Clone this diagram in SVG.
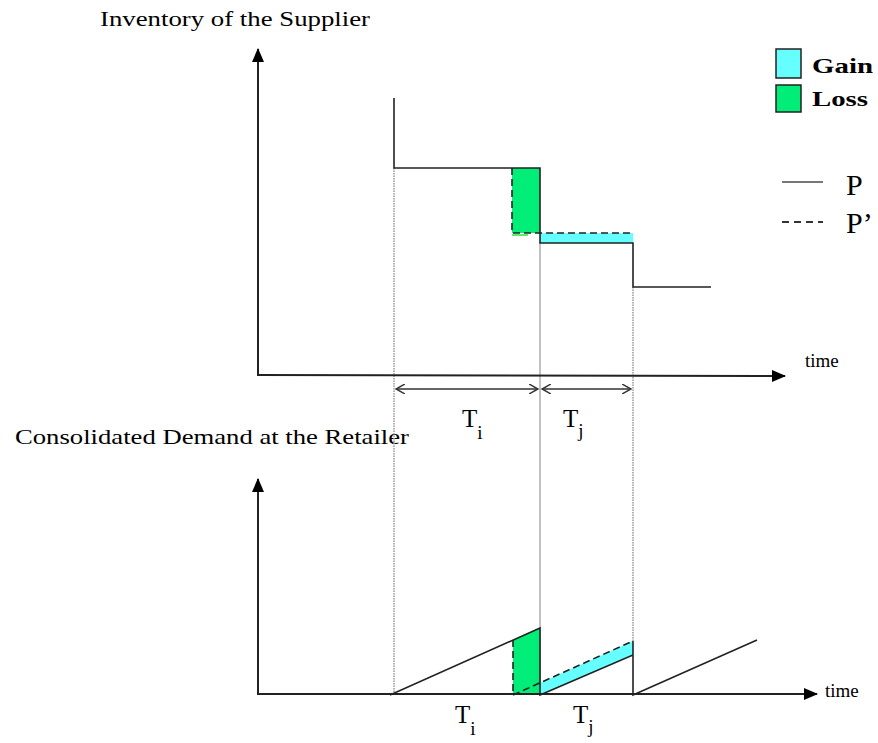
<svg xmlns="http://www.w3.org/2000/svg" width="878" height="743" viewBox="0 0 878 743">
<defs>
<style>
.t{font-family:"Liberation Serif","Times New Roman",serif;fill:#000}
.ax{stroke:#222;stroke-width:2;fill:none}
.p{stroke:#222;stroke-width:1.6;fill:none}
.pd{stroke:#222;stroke-width:1.6;fill:none;stroke-dasharray:7,4}
.dot{stroke:#999;stroke-width:1.5;fill:none;stroke-dasharray:1.5,1}
.gl{stroke:#999;stroke-width:1.2;fill:none}
.gain{fill:#66ffff}
.loss{fill:#00ee77}
</style>
<marker id="ah" markerWidth="14" markerHeight="12" refX="13" refY="6" orient="auto" markerUnits="userSpaceOnUse">
<path d="M0,0 L14,6 L0,12 Z" fill="#000"/>
</marker>
<marker id="oh" markerWidth="10" markerHeight="10" refX="9" refY="5" orient="auto-start-reverse" markerUnits="userSpaceOnUse">
<path d="M0,0 L9,5 L0,10" fill="none" stroke="#333" stroke-width="1.5"/>
</marker>
</defs>
<rect width="878" height="743" fill="#fff"/>

<g id="titles">
<text class="t" x="100" y="26" font-size="21" textLength="270" lengthAdjust="spacingAndGlyphs">Inventory of the Supplier</text>
<text class="t" x="15" y="444" font-size="21" textLength="394" lengthAdjust="spacingAndGlyphs">Consolidated Demand at the Retailer</text>
</g>

<g id="guides">
<line class="dot" x1="394" y1="168" x2="394" y2="694"/>
<line class="gl" x1="540" y1="243" x2="540" y2="694"/>
<line class="dot" x1="633" y1="287" x2="633" y2="641"/>
</g>

<g id="top-fills">
<rect class="loss" x="512" y="168" width="28" height="65"/>
<rect class="gain" x="540" y="233" width="93" height="10"/>
</g>

<g id="bottom-fills">
<polygon class="loss" points="513,640 540,628 540,695 513,695"/>
<polygon class="gain" points="540,683 633,641 633,655 540,695"/>
</g>

<g id="axes">
<line class="ax" x1="258" y1="375" x2="258" y2="49" marker-end="url(#ah)"/>
<line class="ax" x1="257" y1="375" x2="785" y2="376" marker-end="url(#ah)"/>
<line class="ax" x1="258" y1="695" x2="258" y2="479" marker-end="url(#ah)"/>
<line class="ax" x1="257" y1="694" x2="817" y2="694" marker-end="url(#ah)"/>
<text class="t" x="805" y="367" font-size="19">time</text>
<text class="t" x="825" y="697" font-size="19">time</text>
</g>

<g id="curve-top">
<polyline class="p" points="394,98 394,168 540,168 540,243 633,243 633,287 711,287"/>
<polyline class="pd" points="512,168 512,233 540,233 633,233"/>
<line x1="512" y1="235" x2="528" y2="235" stroke="#00dd00" stroke-width="1.2"/>
</g>

<g id="curve-bottom">
<polyline class="p" points="390,695 540,628 540,695 633,655 633,641 633,695 757,640"/>
<line class="pd" x1="513" y1="640" x2="513" y2="695"/>
<line class="pd" x1="513" y1="695" x2="633" y2="641"/>
</g>

<g id="intervals">
<line x1="396" y1="389" x2="538" y2="389" stroke="#333" stroke-width="1.5" marker-start="url(#oh)" marker-end="url(#oh)"/>
<line x1="542" y1="389" x2="631" y2="389" stroke="#333" stroke-width="1.5" marker-start="url(#oh)" marker-end="url(#oh)"/>
<text class="t" x="462" y="427" font-size="25">T<tspan font-size="19" dy="12">i</tspan></text>
<text class="t" x="563" y="427" font-size="25">T<tspan font-size="19" dy="10">j</tspan></text>
<text class="t" x="455" y="723" font-size="25">T<tspan font-size="19" dy="12">i</tspan></text>
<text class="t" x="573" y="723" font-size="25">T<tspan font-size="19" dy="10">j</tspan></text>
</g>

<g id="legend">
<rect class="gain" x="776" y="49" width="25" height="29" stroke="#222" stroke-width="1.5"/>
<rect class="loss" x="776" y="85" width="25" height="27" stroke="#222" stroke-width="1.5"/>
<text class="t" x="812" y="73" font-size="22" font-weight="bold" textLength="61" lengthAdjust="spacingAndGlyphs">Gain</text>
<text class="t" x="812" y="106" font-size="22" font-weight="bold" textLength="56" lengthAdjust="spacingAndGlyphs">Loss</text>
<line x1="782" y1="182" x2="823" y2="182" stroke="#777" stroke-width="2"/>
<line x1="782" y1="222" x2="823" y2="222" stroke="#333" stroke-width="2" stroke-dasharray="7,5"/>
<text class="t" x="846" y="195" font-size="30">P</text>
<text class="t" x="846" y="233" font-size="30">P’</text>
</g>
</svg>
